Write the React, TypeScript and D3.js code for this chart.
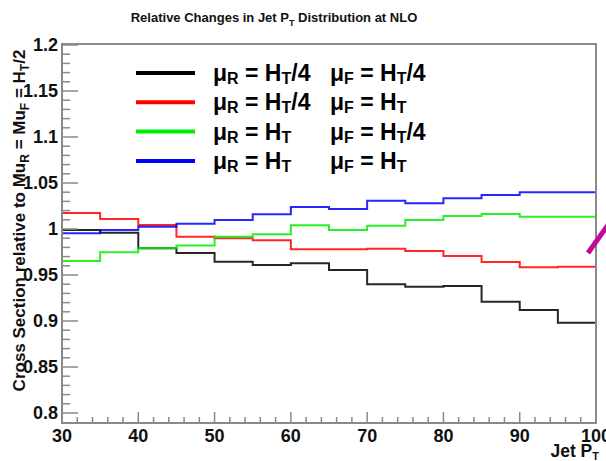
import React from "react";
import * as d3 from "d3";

// ---- data ----
const binLow = [30, 35, 40, 45, 50, 55, 60, 65, 70, 75, 80, 85, 90, 95];
const binHigh = 100;
const seriesNames = ["RqFq", "RqF1", "R1Fq", "R1F1"];
const seriesColors = ["#000000", "#ff0000", "#00ee00", "#0000ff"];
const blackVals = [0.999, 0.996, 0.979, 0.974, 0.9645, 0.961, 0.9627, 0.9554, 0.94, 0.9373, 0.938, 0.921, 0.912, 0.898];
const redVals = [1.0174, 1.011, 1.0043, 0.9917, 0.99, 0.9877, 0.978, 0.978, 0.9786, 0.976, 0.9707, 0.964, 0.9583, 0.959];
const greenVals = [0.9652, 0.9747, 0.979, 0.982, 0.9917, 0.9942, 1.004, 0.9989, 1.0036, 1.0098, 1.0141, 1.0163, 1.0134, 1.0134];
const blueVals = [0.9953, 0.999, 1.0025, 1.0058, 1.0098, 1.016, 1.024, 1.0217, 1.0308, 1.028, 1.0333, 1.037, 1.04, 1.04];
const legendMuR = ["/4", "/4", "", ""];
const legendMuF = ["/4", "", "/4", ""];
const xTickLabels = ["30", "40", "50", "60", "70", "80", "90", "100"];
const yTickLabels = ["0.8", "0.85", "0.9", "0.95", "1", "1.05", "1.1", "1.15", "1.2"];

const FONT = "'Liberation Sans', Arial, Helvetica, sans-serif";

export default function App() {
  const W = 606, H = 461;
  const L = 62, R = 596, T = 44, B = 423;
  const x = d3.scaleLinear().domain([30, 100]).range([L, R]);
  const y = d3.scaleLinear().domain([0.8, 1.2]).range([413, 45]);
  const allVals = [blackVals, redVals, greenVals, blueVals];

  const line = d3
    .line<[number, number]>()
    .x((d) => x(d[0]))
    .y((d) => y(d[1]))
    .curve(d3.curveStepAfter);

  const yMinor = d3.range(80, 121).map((v) => v / 100);
  const xMinor = d3.range(30, 101, 2);
  const tickColor = "#8a8a8a";

  return (
    <svg
      width={W}
      height={H}
      style={{ position: "absolute", left: 0, top: 0, background: "#fff" }}
      fontFamily={FONT}
    >
      <rect x={0} y={0} width={W} height={H} fill="#fff" />
      {/* title */}
      <text x={274} y={22} fontSize={13} fontWeight="bold" textAnchor="middle" fill="#111">
        Relative Changes in Jet P
        <tspan fontSize={9} dy={4}>T</tspan>
        <tspan dy={-4}> Distribution at NLO</tspan>
      </text>

      {/* histograms */}
      {allVals.map((vals, i) => {
        const pts: [number, number][] = binLow.map((b, k) => [b, vals[k]] as [number, number]);
        pts.push([binHigh, vals[vals.length - 1]]);
        return (
          <path
            key={seriesNames[i]}
            d={line(pts) || ""}
            fill="none"
            stroke={seriesColors[i]}
            strokeWidth={2}
            strokeOpacity={0.85}
          />
        );
      })}

      {/* frame */}
      <rect x={L} y={T} width={R - L} height={B - T} fill="none" stroke={tickColor} strokeWidth={2} />

      {/* y ticks */}
      {yMinor.map((v, i) => {
        const major = Math.round(v * 100) % 5 === 0;
        return (
          <line key={"yt" + i} x1={L} x2={L + (major ? 16 : 8)} y1={y(v)} y2={y(v)} stroke={tickColor} strokeWidth={1.5} />
        );
      })}
      {yTickLabels.map((lab) => (
        <text key={"yl" + lab} x={58} y={y(+lab)} dy="0.36em" textAnchor="end" fontSize={18} fontWeight="bold" fill="#111">
          {lab}
        </text>
      ))}

      {/* x ticks */}
      {xMinor.map((v) => {
        const major = v % 10 === 0;
        return (
          <line key={"xt" + v} x1={x(v)} x2={x(v)} y1={B} y2={B - (major ? 11 : 6)} stroke={tickColor} strokeWidth={1.5} />
        );
      })}
      {xTickLabels.map((lab) => (
        <text key={"xl" + lab} x={x(+lab)} y={442} textAnchor="middle" fontSize={18} fontWeight="bold" fill="#111">
          {lab}
        </text>
      ))}

      {/* axis titles */}
      <text x={599} y={457} textAnchor="end" fontSize={17.5} fontWeight="bold" fill="#111">
        Jet P
        <tspan fontSize={11} dy={3}>T</tspan>
      </text>
      <text
        transform={`translate(25, 220.5) rotate(-90)`}
        textAnchor="middle"
        fontSize={17}
        fontWeight="bold"
        fill="#111"
      >
        Cross Section relative to Mu
        <tspan fontSize={12} dy={4}>R</tspan>
        <tspan dy={-4}> = Mu</tspan>
        <tspan fontSize={12} dy={4}>F</tspan>
        <tspan dy={-4}> = H</tspan>
        <tspan fontSize={12} dy={4}>T</tspan>
        <tspan dy={-4}>/2</tspan>
      </text>

      {/* legend */}
      {seriesNames.map((n, i) => {
        const ly = 73 + i * 29.3;
        const base = ly + 8;
        return (
          <g key={"lg" + n}>
            <line x1={136} x2={195} y1={ly} y2={ly} stroke={seriesColors[i]} strokeWidth={4} />
            <text x={213} y={base} fontSize={23} fontWeight="bold" fill="#000">
              μ<tspan fontSize={16} dy={3}>R</tspan>
              <tspan dy={-3}> = H</tspan>
              <tspan fontSize={16} dy={3}>T</tspan>
              <tspan dy={-3}>{legendMuR[i]}</tspan>
            </text>
            <text x={330} y={base} fontSize={23} fontWeight="bold" fill="#000">
              μ<tspan fontSize={16} dy={3}>F</tspan>
              <tspan dy={-3}> = H</tspan>
              <tspan fontSize={16} dy={3}>T</tspan>
              <tspan dy={-3}>{legendMuF[i]}</tspan>
            </text>
          </g>
        );
      })}

      {/* magenta arrow fragment */}
      <line x1={588} y1={253} x2={608} y2={225} stroke="#c2089c" strokeWidth={5} />
    </svg>
  );
}
